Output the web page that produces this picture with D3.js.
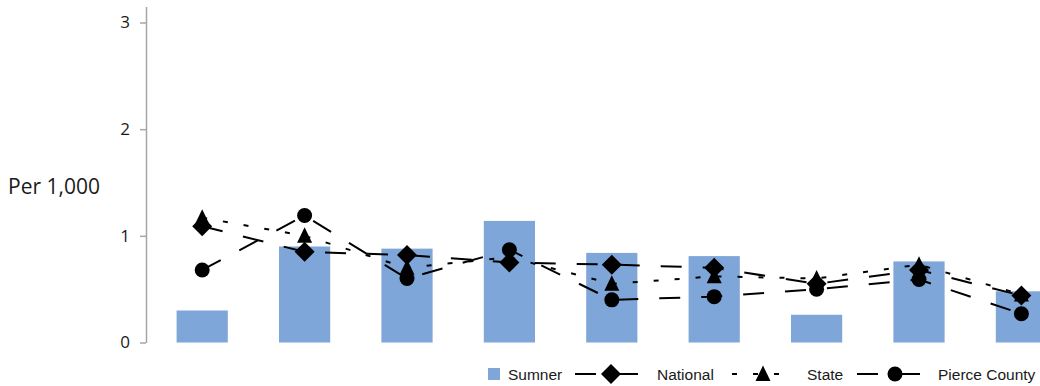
<!DOCTYPE html>
<html>
<head>
<meta charset="utf-8">
<script src="https://cdn.jsdelivr.net/npm/d3@7"></script>
<style>
  html, body { margin: 0; padding: 0; background: #fff; overflow: hidden; }
  svg { display: block; }
</style>
</head>
<body>
<div id="chart"></div>
<script>
const WIDTH = 1040;
const HEIGHT = 386;

// data (rate per 1,000)
const categories = ["1", "2", "3", "4", "5", "6", "7", "8", "9"];
const sumner = [0.30, 0.90, 0.88, 1.14, 0.84, 0.81, 0.26, 0.76, 0.48];
const national = [1.09, 0.85, 0.82, 0.75, 0.73, 0.70, 0.55, 0.68, 0.44];
const state = [1.17, 1.00, 0.70, 0.80, 0.55, 0.62, 0.60, 0.73, 0.45];
const pierce = [0.68, 1.19, 0.60, 0.87, 0.40, 0.43, 0.50, 0.59, 0.27];
const yTicks = [0, 1, 2, 3];

const BAR_COLOR = "#7ea6d8";

const svg = d3.select("#chart")
    .append("svg")
        .attr("width", WIDTH)
        .attr("height", HEIGHT);

const x = d3.scaleBand()
    .domain(categories)
    .range([151, 151 + 9 * 102.4])
    .paddingInner(0.5)
    .paddingOuter(0.25);

const y = d3.scaleLinear()
    .domain([0, 3.15])
    .range([342.5, 6.5]);

// y axis
const yAxis = svg.append("g")
    .attr("transform", "translate(146,0)")
    .call(d3.axisLeft(y).tickValues(yTicks).tickSize(6).tickSizeOuter(0).tickPadding(10).tickFormat(d3.format("d")));

yAxis.select(".domain").attr("stroke", "#a6a6a6").attr("stroke-width", 1.5);
yAxis.selectAll(".tick line").attr("stroke", "#a6a6a6").attr("stroke-width", 1.5);
yAxis.selectAll(".tick text")
    .attr("fill", "#1a1a1a")
    .style("font-family", "'Open Sans', 'Noto Sans', sans-serif")
    .style("font-size", "17px");

svg.append("text")
    .attr("x", 8)
    .attr("y", 194)
    .attr("fill", "#1a1a1a")
    .style("font-family", "'Open Sans', 'Noto Sans', sans-serif")
    .style("font-size", "21px")
    .text("Per 1,000");

// bars
svg.selectAll("rect.bar")
    .data(sumner)
    .enter()
    .append("rect")
        .attr("class", "bar")
        .attr("x", (d, i) => x(categories[i]))
        .attr("width", x.bandwidth())
        .attr("y", d => y(d))
        .attr("height", d => y(0) - y(d))
        .attr("fill", BAR_COLOR);

// marker shapes
const diamond = "M0,-10L10,0L0,10L-10,0Z";
const triangle = "M0,-8.5L7.5,7L-7.5,7Z";
const circle = d3.symbol().type(d3.symbolCircle).size(Math.PI * 7.5 * 7.5)();

const series = [
    { name: "National", values: national, dash: "21,21", marker: diamond },
    { name: "State", values: state, dash: "5,16", marker: triangle },
    { name: "Pierce County", values: pierce, dash: "21,21", marker: circle }
];

const cx = i => x(categories[i]) + x.bandwidth() / 2;

const line = d3.line()
    .x((d, i) => cx(i))
    .y(d => y(d));

series.forEach(s => {
    svg.append("path")
        .datum(s.values)
        .attr("d", line)
        .attr("fill", "none")
        .attr("stroke", "#000")
        .attr("stroke-width", 2)
        .attr("stroke-dasharray", s.dash);
});

series.forEach(s => {
    svg.selectAll(null)
        .data(s.values)
        .enter()
        .append("path")
            .attr("d", s.marker)
            .attr("transform", (d, i) => `translate(${cx(i)},${y(d)})`)
            .attr("fill", "#000");
});

// legend
const legend = svg.append("g").attr("class", "legend");
const legendFont = "'Liberation Sans', Arial, sans-serif";
const LY = 374;

legend.append("rect")
    .attr("x", 488).attr("y", LY - 6)
    .attr("width", 12).attr("height", 12)
    .attr("fill", BAR_COLOR);

legend.append("text")
    .attr("x", 508).attr("y", LY + 5.5)
    .attr("fill", "#1a1a1a")
    .style("font-family", legendFont)
    .style("font-size", "15.5px")
    .text("Sumner");

const legendPos = [
    { x0: 575, mx: 611, tx: 657 },
    { x0: 732, mx: 763, tx: 807 },
    { x0: 857, mx: 895, tx: 938 }
];

series.forEach((s, i) => {
    const p = legendPos[i];
    legend.append("line")
        .attr("x1", p.x0).attr("x2", p.x0 + 63)
        .attr("y1", LY).attr("y2", LY)
        .attr("stroke", "#000")
        .attr("stroke-width", 2)
        .attr("stroke-dasharray", s.dash);
    legend.append("path")
        .attr("d", s.marker)
        .attr("transform", `translate(${p.mx},${LY})`)
        .attr("fill", "#000");
    legend.append("text")
        .attr("x", p.tx).attr("y", LY + 5.5)
        .attr("fill", "#1a1a1a")
        .style("font-family", legendFont)
        .style("font-size", "15.5px")
        .text(s.name);
});
</script>
</body>
</html>
